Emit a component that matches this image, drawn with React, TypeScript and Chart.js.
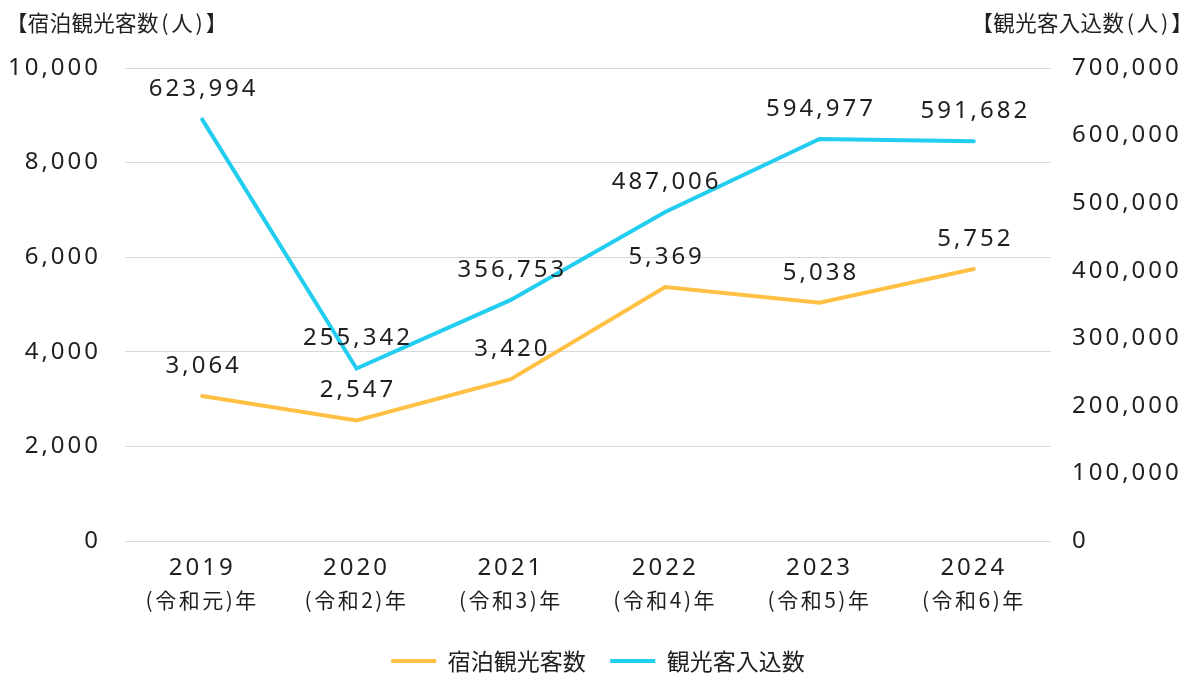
import React, { useEffect, useRef } from 'react';
import { Chart, registerables } from 'chart.js';

Chart.register(...registerables);

// ---- data ----
const years = ['2019', '2020', '2021', '2022', '2023', '2024'];
const eras = ['(令和元)年', '(令和2)年', '(令和3)年', '(令和4)年', '(令和5)年', '(令和6)年'];
const seriesNames = ['宿泊観光客数', '観光客入込数'];
const stays = [3064, 2547, 3420, 5369, 5038, 5752];
const visitors = [623994, 255342, 356753, 487006, 594977, 591682];
const leftTitle = '【宿泊観光客数(人)】';
const rightTitle = '【観光客入込数(人)】';
const leftMax = 10000;
const leftStep = 2000;
const rightMax = 700000;
const rightStep = 100000;

// ---- styles ----
const ORANGE = '#FFC043';
const CYAN = '#22CDEF';
const TEXT = '#1f1f1f';
const GRID = '#d9d9d9';
const NUM_FONT = "'Noto Sans', sans-serif";
const CJK_FONT = "'Noto Sans CJK JP', sans-serif";
const SPACING: Record<string, string> = { x: '3px', y: '3px', y1: '3px', x2: '2.5px' };

const fmt = (v: number) => v.toLocaleString('en-US');

const spacingPlugin = {
  id: 'spacingPatch',
  beforeDraw(chart: any) {
    Object.keys(SPACING).forEach((id) => {
      const s: any = chart.scales[id];
      if (s && !s.__patched) {
        const orig = s.drawLabels.bind(s);
        s.drawLabels = (area: any) => {
          const c = s.ctx;
          const prev = c.letterSpacing;
          c.letterSpacing = SPACING[id];
          orig(area);
          c.letterSpacing = prev || '0px';
        };
        s.__patched = true;
      }
    });
  },
};

const dataLabelPlugin = {
  id: 'dataLabels',
  afterDatasetsDraw(chart: any) {
    const ctx = chart.ctx;
    ctx.save();
    ctx.font = `24px ${NUM_FONT}`;
    ctx.letterSpacing = '3px';
    ctx.fillStyle = TEXT;
    ctx.textAlign = 'center';
    ctx.textBaseline = 'middle';
    chart.data.datasets.forEach((ds: any, i: number) => {
      const meta = chart.getDatasetMeta(i);
      meta.data.forEach((pt: any, j: number) => {
        ctx.fillText(fmt(ds.data[j]), pt.x + 1.5, pt.y - 30);
      });
    });
    ctx.restore();
  },
};

function TitleText({ text }: { text: string }) {
  return (
    <>
      {Array.from(text).map((ch, i) =>
        ch === '(' || ch === ')' ? (
          <span key={i} style={{ margin: '0 2.5px' }}>
            {ch}
          </span>
        ) : (
          <span key={i}>{ch}</span>
        )
      )}
    </>
  );
}

export default function App() {
  const ref = useRef<HTMLCanvasElement | null>(null);

  useEffect(() => {
    if (!ref.current) return;
    const chart = new Chart(ref.current, {
      type: 'line',
      data: {
        labels: years,
        datasets: [
          {
            label: seriesNames[0],
            data: stays,
            yAxisID: 'y',
            borderColor: ORANGE,
            backgroundColor: ORANGE,
            borderWidth: 4,
            pointRadius: 0,
            borderCapStyle: 'round',
            tension: 0,
          },
          {
            label: seriesNames[1],
            data: visitors,
            yAxisID: 'y1',
            borderColor: CYAN,
            backgroundColor: CYAN,
            borderWidth: 4,
            pointRadius: 0,
            borderCapStyle: 'round',
            tension: 0,
          },
        ],
      },
      options: {
        responsive: false,
        animation: false,
        devicePixelRatio: 1,
        layout: { padding: { top: 68, bottom: -4.5, left: 0, right: 0 } },
        plugins: {
          tooltip: { enabled: false },
          title: { display: false },
          legend: {
            position: 'bottom',
            labels: {
              usePointStyle: true,
              pointStyle: 'line',
              pointStyleWidth: 45,
              padding: 24.5,
              color: TEXT,
              font: { size: 23, family: CJK_FONT },
            },
          },
        },
        scales: {
          x: {
            type: 'category',
            position: 'bottom',
            offset: true,
            weight: 0,
            grid: { display: false, drawTicks: false },
            border: { display: false },
            ticks: {
              color: TEXT,
              font: { size: 24, family: NUM_FONT },
              padding: 13,
              autoSkip: false,
              maxRotation: 0,
            },
            afterFit: (s: any) => {
              s.height = 44;
            },
          },
          x2: {
            type: 'category',
            labels: eras,
            position: 'bottom',
            offset: true,
            weight: 1,
            grid: { display: false, drawTicks: false },
            border: { display: false },
            ticks: {
              color: TEXT,
              font: { size: 21, family: CJK_FONT },
              padding: 2,
              autoSkip: false,
              maxRotation: 0,
            },
            afterFit: (s: any) => {
              s.height = 40;
            },
          },
          y: {
            position: 'left',
            min: 0,
            max: leftMax,
            grid: { color: GRID, lineWidth: 1, drawTicks: false },
            border: { display: false },
            ticks: {
              stepSize: leftStep,
              color: TEXT,
              font: { size: 24, family: NUM_FONT },
              padding: 24,
              callback: (v: any) => fmt(Number(v)),
            },
            afterFit: (s: any) => {
              s.width = 125;
            },
          },
          y1: {
            position: 'right',
            min: 0,
            max: rightMax,
            grid: { display: false, drawTicks: false },
            border: { display: false },
            ticks: {
              stepSize: rightStep,
              color: TEXT,
              font: { size: 24, family: NUM_FONT },
              padding: 21,
              callback: (v: any) => fmt(Number(v)),
            },
            afterFit: (s: any) => {
              s.width = 145;
            },
          },
        },
      } as any,
      plugins: [spacingPlugin, dataLabelPlugin],
    });
    return () => chart.destroy();
  }, []);

  const titleStyle: React.CSSProperties = {
    position: 'absolute',
    top: 11,
    fontFamily: CJK_FONT,
    fontSize: 21.5,
    letterSpacing: '0.3px',
    lineHeight: '22px',
    color: TEXT,
    whiteSpace: 'nowrap',
  };

  return (
    <div style={{ position: 'absolute', left: 0, top: 0, width: 1196, height: 678, background: '#fff', overflow: 'hidden' }}>
      <canvas ref={ref} width={1196} height={678} style={{ display: 'block', width: 1196, height: 678 }} />
      <div style={{ ...titleStyle, left: 6 }}>
        <TitleText text={leftTitle} />
      </div>
      <div style={{ ...titleStyle, right: 3 }}>
        <TitleText text={rightTitle} />
      </div>
    </div>
  );
}
